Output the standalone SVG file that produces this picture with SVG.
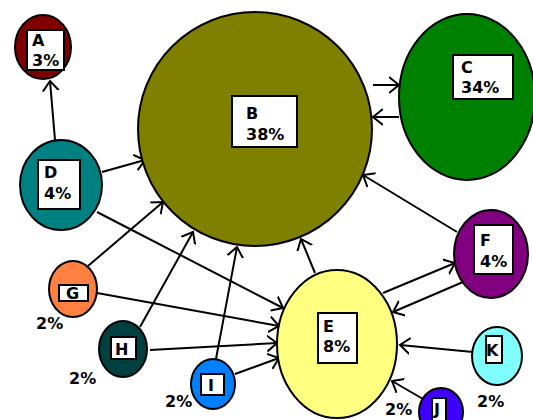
<svg xmlns="http://www.w3.org/2000/svg" width="533" height="420" viewBox="0 0 533 420">
<style>
.n{stroke:#000;stroke-width:2}
.b{fill:#fff;stroke:#000;stroke-width:2}
.t{font-family:"DejaVu Sans",sans-serif;font-weight:bold;font-size:16px;fill:#000}
.e{stroke:#000;stroke-width:2;fill:none;marker-end:url(#ah)}
</style>
<defs>
<marker id="ah" markerUnits="userSpaceOnUse" markerWidth="14" markerHeight="20" refX="10" refY="8" orient="auto" viewBox="0 0 14 16">
<path d="M0,0 L10,8 L0,16" fill="none" stroke="#000" stroke-width="2"/>
</marker>
</defs>
<rect width="533" height="420" fill="#fff"/>
<g id="connectors">
<line class="e" x1="55" y1="140" x2="50" y2="81"/>
<line class="e" x1="102" y1="172" x2="145" y2="160"/>
<line class="e" x1="97" y1="212" x2="283" y2="308"/>
<line class="e" x1="88" y1="266" x2="163" y2="202"/>
<line class="e" x1="97" y1="293" x2="279" y2="326"/>
<line class="e" x1="140" y1="327" x2="193" y2="232"/>
<line class="e" x1="150" y1="350" x2="277" y2="343"/>
<line class="e" x1="216" y1="359" x2="237" y2="247"/>
<line class="e" x1="235" y1="374" x2="279" y2="358"/>
<line class="e" x1="315" y1="273" x2="301" y2="239"/>
<line class="e" x1="457" y1="232" x2="363" y2="175"/>
<line class="e" x1="383" y1="293" x2="455" y2="263"/>
<line class="e" x1="463" y1="282" x2="393" y2="312"/>
<line class="e" x1="473" y1="352" x2="400" y2="345"/>
<line class="e" x1="423" y1="399" x2="392" y2="381"/>
<line class="e" x1="373" y1="85" x2="399" y2="85"/>
<line class="e" x1="399" y1="117" x2="373" y2="117"/>
</g>
<g id="A"><ellipse class="n" cx="43" cy="47" rx="28" ry="32" fill="#800000"/><rect class="b" x="27" y="30" width="37" height="40"/><text class="t" x="32" y="46">A</text><text class="t" x="32" y="66">3%</text></g>
<g id="B"><ellipse class="n" cx="255" cy="129" rx="117" ry="117" fill="#808000"/><rect class="b" x="232" y="96" width="65" height="51"/><text class="t" x="246" y="119">B</text><text class="t" x="246" y="140">38%</text></g>
<g id="C"><ellipse class="n" cx="467" cy="97" rx="68" ry="83" fill="#008000"/><rect class="b" x="453" y="55" width="60" height="44"/><text class="t" x="461" y="73">C</text><text class="t" x="461" y="93">34%</text></g>
<g id="D"><ellipse class="n" cx="61" cy="185" rx="41" ry="45" fill="#008080"/><rect class="b" x="38" y="160" width="42" height="49"/><text class="t" x="44" y="178">D</text><text class="t" x="44" y="199">4%</text></g>
<g id="E"><ellipse class="n" cx="337" cy="344" rx="60" ry="74" fill="#ffff80"/><rect class="b" x="318" y="313" width="39" height="50"/><text class="t" x="323" y="332">E</text><text class="t" x="323" y="352">8%</text></g>
<g id="F"><ellipse class="n" cx="491" cy="254" rx="37" ry="44" fill="#800080"/><rect class="b" x="474" y="225" width="39" height="49"/><text class="t" x="480" y="246">F</text><text class="t" x="480" y="267">4%</text></g>
<g id="G"><ellipse class="n" cx="73" cy="289" rx="24" ry="28" fill="#ff8040"/><rect class="b" x="59" y="285" width="29" height="16"/><text class="t" x="66" y="299">G</text><text class="t" x="36" y="329">2%</text></g>
<g id="H"><ellipse class="n" cx="123" cy="349" rx="24" ry="28" fill="#004040"/><rect class="b" x="111" y="337" width="25" height="22"/><text class="t" x="115" y="355">H</text><text class="t" x="69" y="384">2%</text></g>
<g id="I"><ellipse class="n" cx="213" cy="384" rx="22" ry="25" fill="#0080ff"/><rect class="b" x="201" y="374" width="23" height="21"/><text class="t" x="208" y="391">I</text><text class="t" x="165" y="407">2%</text></g>
<g id="J"><ellipse class="n" cx="441" cy="412" rx="22" ry="24" fill="#4000ff"/><rect class="b" x="432" y="398" width="14" height="30"/><text class="t" x="434" y="415">J</text><text class="t" x="385" y="415">2%</text></g>
<g id="K"><ellipse class="n" cx="497" cy="356" rx="25" ry="29" fill="#80ffff"/><rect class="b" x="486" y="336" width="16" height="27"/><text class="t" x="486" y="356">K</text><text class="t" x="477" y="407">2%</text></g>
</svg>
